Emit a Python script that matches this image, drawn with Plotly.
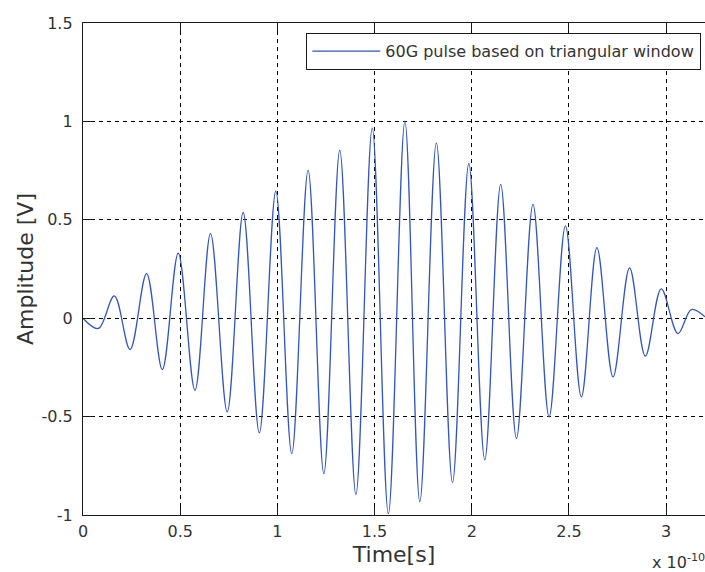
import plotly.graph_objects as go

# Time in units of 1e-10 s (axis multiplier "x 10^-10")
time_e10 = [0.0, 0.079, 0.161, 0.242, 0.327, 0.408, 0.490, 0.576, 0.656, 0.742,
            0.824, 0.907, 0.992, 1.074, 1.158, 1.239, 1.321, 1.404, 1.488, 1.571,
            1.656, 1.733, 1.818, 1.901, 1.985, 2.067, 2.149, 2.230, 2.315, 2.398,
            2.482, 2.564, 2.644, 2.727, 2.812, 2.893, 2.975, 3.061, 3.130, 3.200]
amplitude = [0.0, -0.052, 0.113, -0.159, 0.227, -0.261, 0.330, -0.366, 0.430, -0.476,
             0.537, -0.583, 0.645, -0.688, 0.752, -0.790, 0.854, -0.896, 0.967, -0.993,
             1.000, -0.933, 0.891, -0.835, 0.786, -0.720, 0.680, -0.611, 0.578, -0.501,
             0.469, -0.400, 0.359, -0.298, 0.256, -0.193, 0.149, -0.078, 0.044, 0.007]

x_tickvals = [0, 0.5, 1, 1.5, 2, 2.5, 3]
x_ticktext = ["0", "0.5", "1", "1.5", "2", "2.5", "3"]
y_tickvals = [-1, -0.5, 0, 0.5, 1, 1.5]
y_ticktext = ["-1", "-0.5", "0", "0.5", "1", "1.5"]

FONT = "DejaVu Sans"
TXT = "#333333"

fig = go.Figure()
fig.add_trace(go.Scatter(
    x=time_e10, y=amplitude, mode="lines",
    line=dict(color="#3355c0", width=1.3, shape="spline", smoothing=1.0),
    name="60G pulse based on triangular window",
))

axis_common = dict(
    showline=True, linecolor="#1a1a1a", linewidth=1.3,
    ticks="inside", ticklen=8, tickwidth=1, tickcolor="#1a1a1a",
    showgrid=True, gridcolor="#000000", gridwidth=1, griddash="4px,4px",
    zeroline=False,
    tickfont=dict(family=FONT, size=16, color=TXT),
)

fig.update_xaxes(
    range=[0, 3.2], tickvals=x_tickvals, ticktext=x_ticktext,
    mirror="ticks", ticklabelstandoff=2,
    title=dict(text="Time[s]", font=dict(family=FONT, size=22, color=TXT), standoff=6),
    **axis_common,
)
fig.update_yaxes(
    range=[-1, 1.5], tickvals=y_tickvals, ticktext=y_ticktext,
    mirror=False, ticklabelstandoff=6,
    title=dict(text="Amplitude [V]", font=dict(family=FONT, size=22, color=TXT), standoff=1),
    **axis_common,
)

fig.add_annotation(
    text="x 10<sup>-10</sup>", xref="paper", yref="paper",
    x=1.0, y=0, xanchor="left", yanchor="top", xshift=-55, yshift=-34,
    showarrow=False, font=dict(family=FONT, size=16, color=TXT),
)

fig.update_layout(
    width=705, height=572,
    margin=dict(l=83, r=0, t=23, b=57),
    paper_bgcolor="white", plot_bgcolor="white",
    showlegend=True,
    legend=dict(
        x=0.9936, y=0.9797, xanchor="right", yanchor="top",
        bordercolor="#1a1a1a", borderwidth=1.3, bgcolor="white",
        font=dict(family=FONT, size=16, color=TXT),
        itemwidth=68,
    ),
)

fig.write_html("out.html", config={"displayModeBar": False},
               post_script="document.body.style.margin='0';")
